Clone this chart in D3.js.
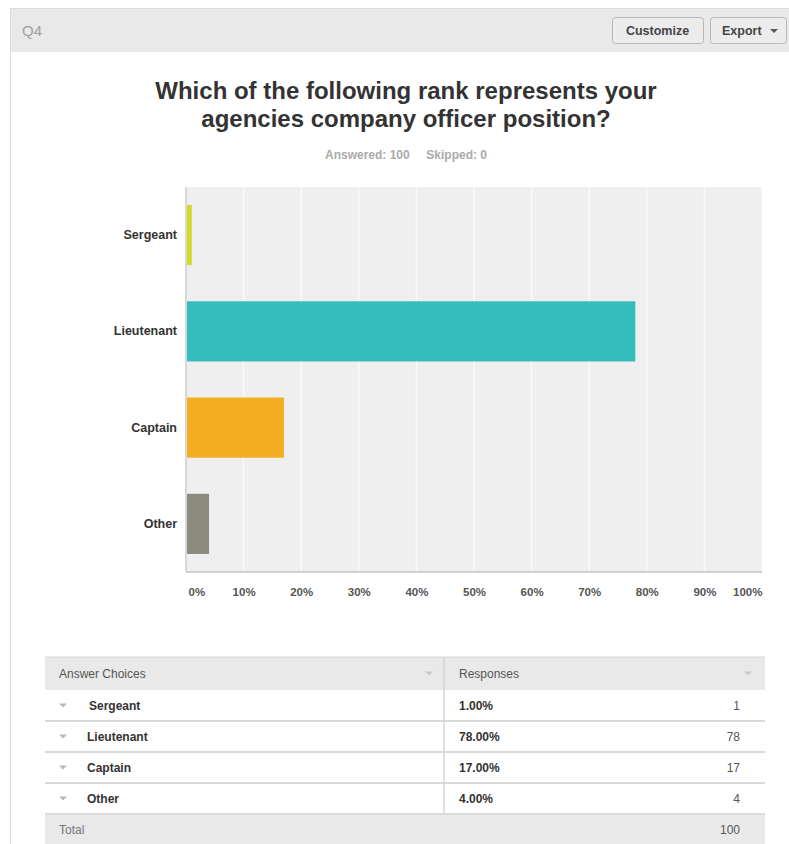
<!DOCTYPE html>
<html>
<head>
<meta charset="utf-8">
<script src="https://cdn.jsdelivr.net/npm/d3@7"></script>
<style>
  html, body { margin: 0; padding: 0; background: #fff; }
  svg { display: block; font-family: "Liberation Sans", Arial, sans-serif; }
</style>
</head>
<body>
<svg id="chart" width="789" height="844"></svg>
<script>
// Survey question Q4: rank of the company officer position
const categories = ["Sergeant", "Lieutenant", "Captain", "Other"];
const percents = [1, 78, 17, 4];
const counts = [1, 78, 17, 4];
const barColors = ["#d4d925", "#33bdbd", "#f6ae20", "#8b8b7e"];
const tickValues = [0, 10, 20, 30, 40, 50, 60, 70, 80, 90, 100];
const titleLines = ["Which of the following rank represents your", "agencies company officer position?"];
const answered = 100, skipped = 0, total = 100;

const svg = d3.select("#chart");

// Card frame and header strip
svg.append("rect").attr("x", 10.5).attr("y", 8.5).attr("width", 790).attr("height", 850)
  .attr("fill", "#fff").attr("stroke", "#dcdcdc");
svg.append("rect").attr("x", 11).attr("y", 9).attr("width", 790).attr("height", 43).attr("fill", "#e9e9e9");
svg.append("text").attr("x", 22).attr("y", 36).attr("fill", "#a0a0a0")
  .attr("font-size", 15).text("Q4");

function button(x, w, label, caret) {
  const g = svg.append("g");
  g.append("rect").attr("x", x + 0.5).attr("y", 17.5).attr("width", w).attr("height", 26).attr("rx", 3)
    .attr("fill", "#ececec").attr("stroke", "#b8b8b8");
  g.append("text").attr("x", caret ? x + 12 : x + w / 2).attr("y", 35)
    .attr("text-anchor", caret ? "start" : "middle")
    .attr("font-size", 12.5).attr("font-weight", "bold").attr("fill", "#444").text(label);
  if (caret) {
    const cx = x + w - 12;
    g.append("path").attr("d", `M${cx - 4},29 L${cx + 4},29 L${cx},33 Z`).attr("fill", "#555");
  }
}
button(612, 91, "Customize", false);
button(710, 76, "Export", true);

// Title and response summary
svg.append("text").attr("x", 406).attr("y", 99).attr("text-anchor", "middle")
  .attr("font-size", 24).attr("font-weight", "bold").attr("fill", "#333")
  .selectAll("tspan").data(titleLines).join("tspan")
  .attr("x", 406).attr("dy", (d, i) => i ? 28 : 0).text(d => d);
svg.append("text").attr("x", 406).attr("y", 159).attr("text-anchor", "middle")
  .attr("font-size", 12).attr("font-weight", "bold").attr("fill", "#aaa")
  .attr("xml:space", "preserve")
  .text(`Answered: ${answered}     Skipped: ${skipped}`);

// Bar chart
const plot = { left: 186, right: 762, top: 187, bottom: 572 };
const x = d3.scaleLinear().domain([0, 100]).range([plot.left, plot.right]);
const y = d3.scaleBand().domain(categories).range([plot.top, plot.bottom]).paddingInner(0.375).paddingOuter(0.1875);

svg.append("rect").attr("x", plot.left).attr("y", plot.top)
  .attr("width", plot.right - plot.left).attr("height", plot.bottom - plot.top).attr("fill", "#efefef");

svg.append("g").selectAll("line").data(tickValues.slice(1)).join("line")
  .attr("x1", d => x(d)).attr("x2", d => x(d)).attr("y1", plot.top).attr("y2", plot.bottom)
  .attr("stroke", "#fafafa").attr("stroke-width", 1.5);

svg.append("line").attr("x1", plot.left).attr("x2", plot.left).attr("y1", plot.top).attr("y2", plot.bottom)
  .attr("stroke", "#d8d8d8").attr("stroke-width", 2);
svg.append("line").attr("x1", plot.left).attr("x2", plot.right).attr("y1", plot.bottom).attr("y2", plot.bottom)
  .attr("stroke", "#d0d0d0").attr("stroke-width", 2);

svg.append("g").selectAll("rect").data(categories).join("rect")
  .attr("x", x(0) + 1).attr("y", d => y(d))
  .attr("width", (d, i) => x(percents[i]) - x(0) - 1).attr("height", y.bandwidth())
  .attr("fill", (d, i) => barColors[i]);

svg.append("g").selectAll("text").data(categories).join("text")
  .attr("x", plot.left - 9).attr("y", d => y(d) + y.bandwidth() / 2 + 4)
  .attr("text-anchor", "end").attr("font-size", 12.5).attr("font-weight", "bold").attr("fill", "#333")
  .text(d => d);

const xAxis = d3.axisBottom(x).tickValues(tickValues).tickSize(0).tickFormat(d => d + "%");
const gx = svg.append("g").attr("transform", `translate(0,${plot.bottom})`).call(xAxis);
gx.select(".domain").remove();
gx.selectAll("text").attr("font-size", 11.5).attr("font-weight", "bold").attr("fill", "#555")
  .attr("font-family", "Liberation Sans, Arial, sans-serif").attr("dy", "1.85em")
  .attr("dx", (d, i) => i === 0 ? 2 : 0)
  .attr("text-anchor", (d, i) => i === 0 ? "start" : i === tickValues.length - 1 ? "end" : "middle");

// Results table
const tbl = { left: 45, right: 765, split: 444, top: 657, headerH: 33, rowH: 31 };
svg.append("rect").attr("x", tbl.left).attr("y", tbl.top).attr("width", tbl.right - tbl.left)
  .attr("height", tbl.headerH).attr("fill", "#e9e9e9");
svg.append("line").attr("x1", tbl.left).attr("x2", tbl.right).attr("y1", tbl.top).attr("y2", tbl.top)
  .attr("stroke", "#d6d6d6").attr("stroke-width", 1);

function caretDown(cx, cy, col) {
  svg.append("path").attr("d", `M${cx - 4},${cy - 2} L${cx + 4},${cy - 2} L${cx},${cy + 2} Z`).attr("fill", col);
}
const hy = tbl.top + tbl.headerH / 2 + 4;
svg.append("text").attr("x", 59).attr("y", hy).attr("font-size", 12).attr("fill", "#555").text("Answer Choices");
svg.append("text").attr("x", 459).attr("y", hy).attr("font-size", 12).attr("fill", "#555").text("Responses");
caretDown(429, hy - 4, "#c8c8c8");
caretDown(748, hy - 4, "#c8c8c8");

const rowTop = i => tbl.top + tbl.headerH + i * tbl.rowH;
categories.forEach((c, i) => {
  const ty = rowTop(i) + tbl.rowH / 2 + 4;
  svg.append("line").attr("x1", tbl.left).attr("x2", tbl.right)
    .attr("y1", rowTop(i + 1)).attr("y2", rowTop(i + 1)).attr("stroke", "#dadada").attr("stroke-width", 2);
  caretDown(63, ty - 4, "#b8b8b8");
  svg.append("text").attr("x", i === 0 ? 89 : 87).attr("y", ty).attr("font-size", 12).attr("font-weight", "bold")
    .attr("fill", "#333").text(c);
  svg.append("text").attr("x", 459).attr("y", ty).attr("font-size", 12).attr("font-weight", "bold")
    .attr("fill", "#333").text(percents[i].toFixed(2) + "%");
  svg.append("text").attr("x", 740).attr("y", ty).attr("text-anchor", "end").attr("font-size", 12)
    .attr("fill", "#555").text(counts[i]);
});
svg.append("line").attr("x1", tbl.split).attr("x2", tbl.split)
  .attr("y1", tbl.top).attr("y2", rowTop(categories.length)).attr("stroke", "#d6d6d6").attr("stroke-width", 1.5);

const totTop = rowTop(categories.length) + 1;
svg.append("rect").attr("x", tbl.left).attr("y", totTop).attr("width", tbl.right - tbl.left)
  .attr("height", 31).attr("fill", "#e9e9e9");
svg.append("text").attr("x", 59).attr("y", totTop + 19).attr("font-size", 12).attr("fill", "#777").text("Total");
svg.append("text").attr("x", 740).attr("y", totTop + 19).attr("text-anchor", "end").attr("font-size", 12)
  .attr("fill", "#555").text(total);
</script>
</body>
</html>
